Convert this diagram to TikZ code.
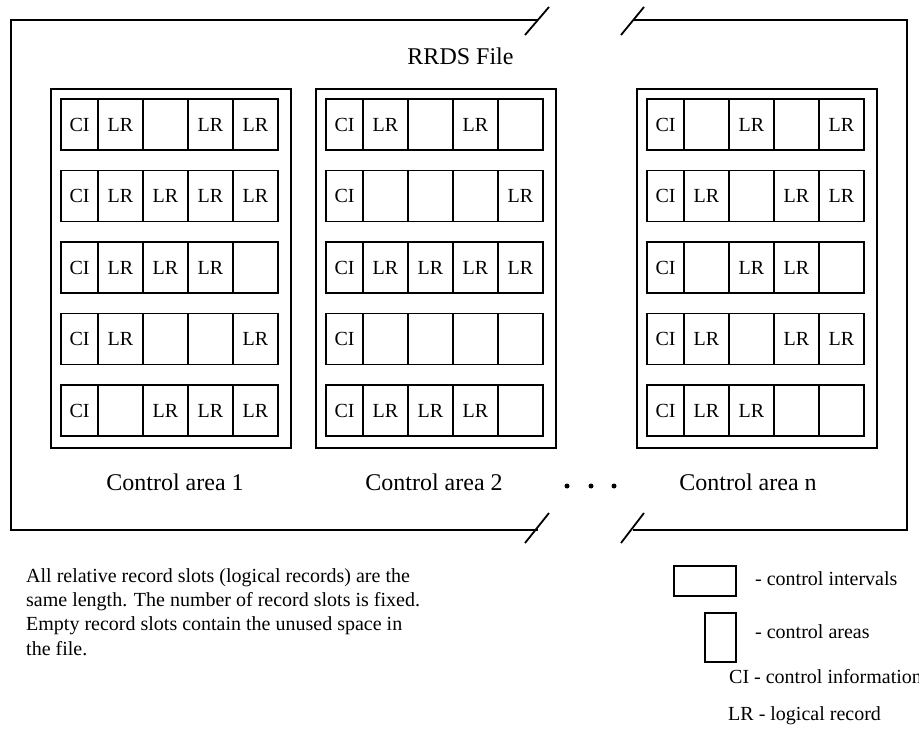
\documentclass[tikz,border=0pt]{standalone}
\usepackage{fontspec}
\setmainfont{Liberation Serif}
\newcommand\ivrow[7]{%
  \node[cicell] (#1c1) at (#2,#3) {CI};
  \node[lrcell] (#1c2) at (#2+37,#3) {#4};
  \node[lrcell] (#1c3) at (#2+82,#3) {#5};
  \node[lrcell] (#1c4) at (#2+127,#3) {#6};
  \node[lrcell] (#1c5) at (#2+172,#3) {#7};
}
\begin{document}
\begin{tikzpicture}[x=1pt,y=-1pt,
  ln/.style={line width=1.8pt},
  basecell/.style={draw, line width=1.8pt, inner sep=0pt, outer sep=0pt, minimum height=51pt, anchor=north west, font=\fontsize{20}{20}\selectfont},
  cicell/.style={basecell, minimum width=37pt},
  lrcell/.style={basecell, minimum width=45pt},
  areabox/.style={draw, line width=1.8pt, inner sep=0pt, outer sep=0pt, minimum width=240pt, minimum height=359pt, anchor=north west},
  biglabel/.style={font=\fontsize{24}{24}\selectfont, inner sep=0pt, anchor=base},
  txt/.style={font=\fontsize{20}{20}\selectfont, inner sep=0pt, anchor=base west},
  dot/.style={circle, fill=black, inner sep=0pt, minimum size=5pt}]
\useasboundingbox (0,0) rectangle (919,746);
% outer file frame with break marks
\coordinate (tl) at (11,20); \coordinate (bl) at (11,530);
\coordinate (tr) at (907,20); \coordinate (br) at (907,530);
\coordinate (tb1) at (538,20); \coordinate (tb2) at (633,20);
\coordinate (bb1) at (538,530); \coordinate (bb2) at (633,530);
\draw[ln] (tb1) -- (tl) -- (bl) -- (bb1);
\draw[ln] (tb2) -- (tr) -- (br) -- (bb2);
\draw[ln] (525,35) -- (549,7);
\draw[ln] (621,35) -- (644,7);
\draw[ln] (525,543) -- (549,513);
\draw[ln] (621,543) -- (644,513);
\node[biglabel] (title) at (460.5,65) {RRDS File};
% control areas
\node[areabox] (ca1) at (51,89) {};
\node[areabox] (ca2) at (316,89) {};
\node[areabox] (ca3) at (637,89) {};
% area 1
\ivrow{aA}{61}{99}{LR}{}{LR}{LR}
\ivrow{aB}{61}{170.5}{LR}{LR}{LR}{LR}
\ivrow{aC}{61}{242}{LR}{LR}{LR}{}
\ivrow{aD}{61}{313.5}{LR}{}{}{LR}
\ivrow{aE}{61}{385}{}{LR}{LR}{LR}
% area 2
\ivrow{bA}{326}{99}{LR}{}{LR}{}
\ivrow{bB}{326}{170.5}{}{}{}{LR}
\ivrow{bC}{326}{242}{LR}{LR}{LR}{LR}
\ivrow{bD}{326}{313.5}{}{}{}{}
\ivrow{bE}{326}{385}{LR}{LR}{LR}{}
% area n
\ivrow{nA}{647}{99}{}{LR}{}{LR}
\ivrow{nB}{647}{170.5}{LR}{}{LR}{LR}
\ivrow{nC}{647}{242}{}{LR}{LR}{}
\ivrow{nD}{647}{313.5}{LR}{}{LR}{LR}
\ivrow{nE}{647}{385}{LR}{LR}{}{}
% labels
\node[biglabel] (l1) at (175,490) {Control area 1};
\node[biglabel] (l2) at (434,490) {Control area 2};
\node[biglabel] (l3) at (748,490) {Control area n};
\node[dot] (d1) at (567,486) {};
\node[dot] (d2) at (591,486) {};
\node[dot] (d3) at (614,486) {};
% note
\node[txt] (p1) at (26,582) {All relative record slots (logical records) are the};
\node[txt] (p2) at (26,606) {same length. The number of record slots is fixed.};
\node[txt] (p3) at (26,630) {Empty record slots contain the unused space in};
\node[txt] (p4) at (26,655) {the file.};
% legend
\node[draw, line width=1.8pt, inner sep=0pt, minimum width=62pt, minimum height=30pt, anchor=north west] (lg1) at (673,565) {};
\node[draw, line width=1.8pt, inner sep=0pt, minimum width=31pt, minimum height=49pt, anchor=north west] (lg2) at (704,612) {};
\node[txt] (t1) at (755,585) {- control intervals};
\node[txt] (t2) at (755,638) {- control areas};
\node[txt] (t3) at (729,683) {CI - control information};
\node[txt] (t4) at (728,720) {LR - logical record};
\end{tikzpicture}
\end{document}
